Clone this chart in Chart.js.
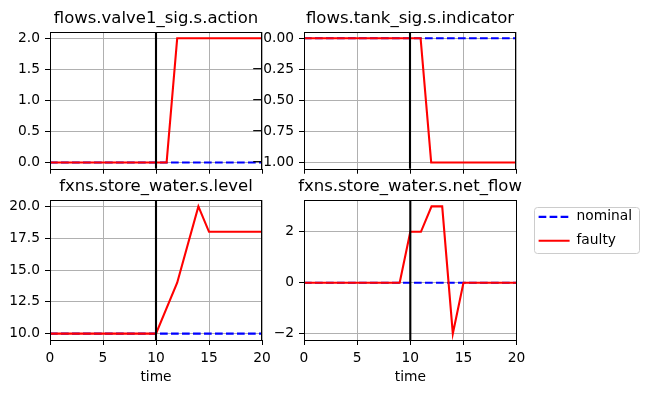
<!DOCTYPE html>
<html>
<head>
<meta charset="utf-8">
<script src="https://cdn.jsdelivr.net/npm/chart.js@4.4.1/dist/chart.umd.min.js"></script>
<style>
  html, body { margin: 0; padding: 0; background: #ffffff; width: 648px; height: 393px; overflow: hidden; }
  .panel { position: absolute; }
  .panel canvas { display: block; }
</style>
</head>
<body>
<div class="panel" style="left:0px;top:0px"><canvas id="cA" width="312" height="182"></canvas></div>
<div class="panel" style="left:224px;top:0px"><canvas id="cB" width="372" height="182"></canvas></div>
<div class="panel" style="left:0px;top:168px"><canvas id="cC" width="312" height="225"></canvas></div>
<div class="panel" style="left:0px;top:168px"><canvas id="cD" width="648" height="225"></canvas></div>
<script>
// ---------------- data ----------------
const time = [0, 1, 2, 3, 4, 5, 6, 7, 8, 9, 10, 11, 12, 13, 14, 15, 16, 17, 18, 19, 20];

const valveNominal = [0, 0, 0, 0, 0, 0, 0, 0, 0, 0, 0, 0, 0, 0, 0, 0, 0, 0, 0, 0, 0];
const valveFaulty  = [0, 0, 0, 0, 0, 0, 0, 0, 0, 0, 0, 0, 2, 2, 2, 2, 2, 2, 2, 2, 2];

const tankNominal = [0, 0, 0, 0, 0, 0, 0, 0, 0, 0, 0, 0, 0, 0, 0, 0, 0, 0, 0, 0, 0];
const tankFaulty  = [0, 0, 0, 0, 0, 0, 0, 0, 0, 0, 0, 0, -1, -1, -1, -1, -1, -1, -1, -1, -1];

const levelNominal = [10, 10, 10, 10, 10, 10, 10, 10, 10, 10, 10, 10, 10, 10, 10, 10, 10, 10, 10, 10, 10];
const levelFaulty  = [10, 10, 10, 10, 10, 10, 10, 10, 10, 10, 10, 12, 14, 17, 20, 18, 18, 18, 18, 18, 18];

const flowNominal = [0, 0, 0, 0, 0, 0, 0, 0, 0, 0, 0, 0, 0, 0, 0, 0, 0, 0, 0, 0, 0];
const flowFaulty  = [0, 0, 0, 0, 0, 0, 0, 0, 0, 0, 2, 2, 3, 3, -2, 0, 0, 0, 0, 0, 0];

const faultTime = 10;
const seriesNames = ['nominal', 'faulty'];
const panelTitles = ['flows.valve1_sig.s.action', 'flows.tank_sig.s.indicator',
                     'fxns.store_water.s.level', 'fxns.store_water.s.net_flow'];
const xTitle = 'time';

const xRange = [0, 20];
const xTicks = [0, 5, 10, 15, 20];
const xTickLabels = ['0', '5', '10', '15', '20'];

const yRangeA = [-0.1, 2.1];
const yTicksA = [0, 0.5, 1, 1.5, 2];
const yLabelsA = ['0.0', '0.5', '1.0', '1.5', '2.0'];

const yRangeB = [-1.05, 0.05];
const yTicksB = [-1, -0.75, -0.5, -0.25, 0];
const yLabelsB = ['\u22121.00', '\u22120.75', '\u22120.50', '\u22120.25', '0.00'];

const yRangeC = [9.5, 20.5];
const yTicksC = [10, 12.5, 15, 17.5, 20];
const yLabelsC = ['10.0', '12.5', '15.0', '17.5', '20.0'];

const yRangeD = [-2.25, 3.25];
const yTicksD = [-2, 0, 2];
const yLabelsD = ['\u22122', '0', '2'];

// ---------------- style ----------------
const FAMILY = "'DejaVu Sans', sans-serif";
Chart.defaults.font.family = FAMILY;
Chart.defaults.color = '#000000';

const tickFont = { family: FAMILY, size: 13.8 };
const titleFont = { family: FAMILY, size: 16.5, weight: 'normal', lineHeight: '20px' };
const gridOpt = { color: '#b0b0b0', lineWidth: 1, drawTicks: true, tickLength: 5, tickColor: '#000000', tickWidth: 1 };

function pts(ys) { return time.map((t, i) => ({ x: t, y: ys[i] })); }

// fault marker line + axes frame
const markerFrame = {
  id: 'markerFrame',
  afterDatasetsDraw(chart) {
    const { ctx, chartArea: a, scales } = chart;
    ctx.save();
    const px = scales.x.getPixelForValue(faultTime);
    ctx.strokeStyle = '#000000';
    ctx.lineWidth = 2.1;
    ctx.beginPath();
    ctx.moveTo(px, a.top);
    ctx.lineTo(px, a.bottom);
    ctx.stroke();
    ctx.lineWidth = 1;
    ctx.strokeRect(Math.round(a.left) + 0.5, Math.round(a.top) + 0.5,
                   Math.round(a.right) - Math.round(a.left) - 1, Math.round(a.bottom) - Math.round(a.top));
    ctx.restore();
  }
};

// legend frame (matplotlib style box)
const legendFrame = {
  id: 'legendFrame',
  beforeDraw(chart) {
    const lg = chart.legend;
    if (!lg || !lg.options.display || !lg.legendHitBoxes || !lg.legendHitBoxes.length) return;
    let l = Infinity, t = Infinity, r = -Infinity, b = -Infinity;
    lg.legendHitBoxes.forEach(h => {
      l = Math.min(l, h.left); t = Math.min(t, h.top);
      r = Math.max(r, h.left + h.width); b = Math.max(b, h.top + h.height);
    });
    l -= 5; t -= 3; r += 7; b += 5;
    const ctx = chart.ctx;
    ctx.save();
    ctx.beginPath();
    if (ctx.roundRect) ctx.roundRect(Math.round(l) + 0.5, Math.round(t) + 0.5, Math.round(r - l), Math.round(b - t), 3);
    else ctx.rect(Math.round(l) + 0.5, Math.round(t) + 0.5, Math.round(r - l), Math.round(b - t));
    ctx.fillStyle = 'rgba(255,255,255,0.8)';
    ctx.fill();
    ctx.strokeStyle = '#cccccc';
    ctx.lineWidth = 1;
    ctx.stroke();
    ctx.restore();
  }
};

function legendLabels(chart) {
  const items = Chart.defaults.plugins.legend.labels.generateLabels(chart);
  return items.map(it => {
    const ds = chart.data.datasets[it.datasetIndex];
    return Object.assign(it, {
      lineDash: ds.borderDash || [], lineWidth: ds.borderWidth,
      strokeStyle: ds.borderColor, fillStyle: ds.borderColor
    });
  });
}

function makePanel(p) {
  const datasets = [
    { label: seriesNames[0], data: pts(p.nominal), borderColor: '#0000ff', backgroundColor: '#0000ff',
      borderDash: [7.7, 3.3], borderWidth: 2.1, pointRadius: 0, tension: 0, fill: false, order: 1 },
    { label: seriesNames[1], data: pts(p.faulty), borderColor: '#ff0000', backgroundColor: '#ff0000',
      borderWidth: 2.1, pointRadius: 0, tension: 0, fill: false, order: 0 }
  ];
  const scales = {
    x: {
      type: 'linear', position: 'bottom', min: xRange[0], max: xRange[1],
      afterBuildTicks: s => { s.ticks = xTicks.map(v => ({ value: v })); },
      afterFit: s => { s.height = p.xHeight; },
      grid: gridOpt, border: { display: false },
      ticks: { display: p.showX, autoSkip: false, maxRotation: 0, padding: 5, font: tickFont,
               callback: (v, i) => xTickLabels[i] },
      title: { display: p.showX, text: xTitle, font: { family: FAMILY, size: 13.8, lineHeight: '16px' },
               padding: { top: 0, bottom: 8 } }
    },
    y: {
      type: 'linear', position: 'left', min: p.yRange[0], max: p.yRange[1],
      afterBuildTicks: s => { s.ticks = p.yTicks.map(v => ({ value: v })); },
      afterFit: s => { s.width = p.yWidth; },
      grid: gridOpt, border: { display: false },
      ticks: { autoSkip: false, padding: 5, font: tickFont, callback: (v, i) => p.yLabels[i] }
    }
  };
  if (p.legend) {
    scales.y2 = {
      type: 'linear', position: 'right', display: true,
      grid: { display: false, drawTicks: false }, border: { display: false },
      ticks: { display: false },
      afterFit: s => { s.width = 12; }
    };
  }
  return new Chart(document.getElementById(p.id), {
    type: 'line',
    data: { datasets },
    options: {
      responsive: false,
      maintainAspectRatio: false,
      devicePixelRatio: 1,
      animation: false,
      layout: { padding: p.pad, autoPadding: false },
      scales,
      plugins: {
        title: { display: true, text: p.title, fullSize: p.titleFull, color: '#000000',
                 font: titleFont, padding: { top: 9.2, bottom: 2.8 } },
        legend: {
          display: p.legend, position: 'right', align: 'start', fullSize: false, maxWidth: 300,
          labels: {
            usePointStyle: true, pointStyle: 'line', pointStyleWidth: 31, padding: 10,
            color: '#000000', font: { family: FAMILY, size: 13.8 },
            generateLabels: legendLabels,
            sort: (a, b) => a.datasetIndex - b.datasetIndex
          }
        },
        tooltip: { enabled: false }
      }
    },
    plugins: p.legend ? [legendFrame, markerFrame] : [markerFrame]
  });
}

makePanel({ id: 'cA', title: panelTitles[0], nominal: valveNominal, faulty: valveFaulty,
  yRange: yRangeA, yTicks: yTicksA, yLabels: yLabelsA, yWidth: 50, xHeight: 10, showX: false,
  pad: { left: 0, right: 50, top: 0, bottom: 0 }, legend: false, titleFull: false });
makePanel({ id: 'cB', title: panelTitles[1], nominal: tankNominal, faulty: tankFaulty,
  yRange: yRangeB, yTicks: yTicksB, yLabels: yLabelsB, yWidth: 80, xHeight: 10, showX: false,
  pad: { left: 0, right: 80, top: 0, bottom: 0 }, legend: false, titleFull: false });
makePanel({ id: 'cC', title: panelTitles[2], nominal: levelNominal, faulty: levelFaulty,
  yRange: yRangeC, yTicks: yTicksC, yLabels: yLabelsC, yWidth: 50, xHeight: 53, showX: true,
  pad: { left: 0, right: 50, top: 0, bottom: 0 }, legend: false, titleFull: false });
makePanel({ id: 'cD', title: panelTitles[3], nominal: flowNominal, faulty: flowFaulty,
  yRange: yRangeD, yTicks: yTicksD, yLabels: yLabelsD, yWidth: 126, xHeight: 53, showX: true,
  pad: { left: 178, right: 6, top: 0, bottom: 0 }, legend: true, titleFull: true });
</script>
</body>
</html>
